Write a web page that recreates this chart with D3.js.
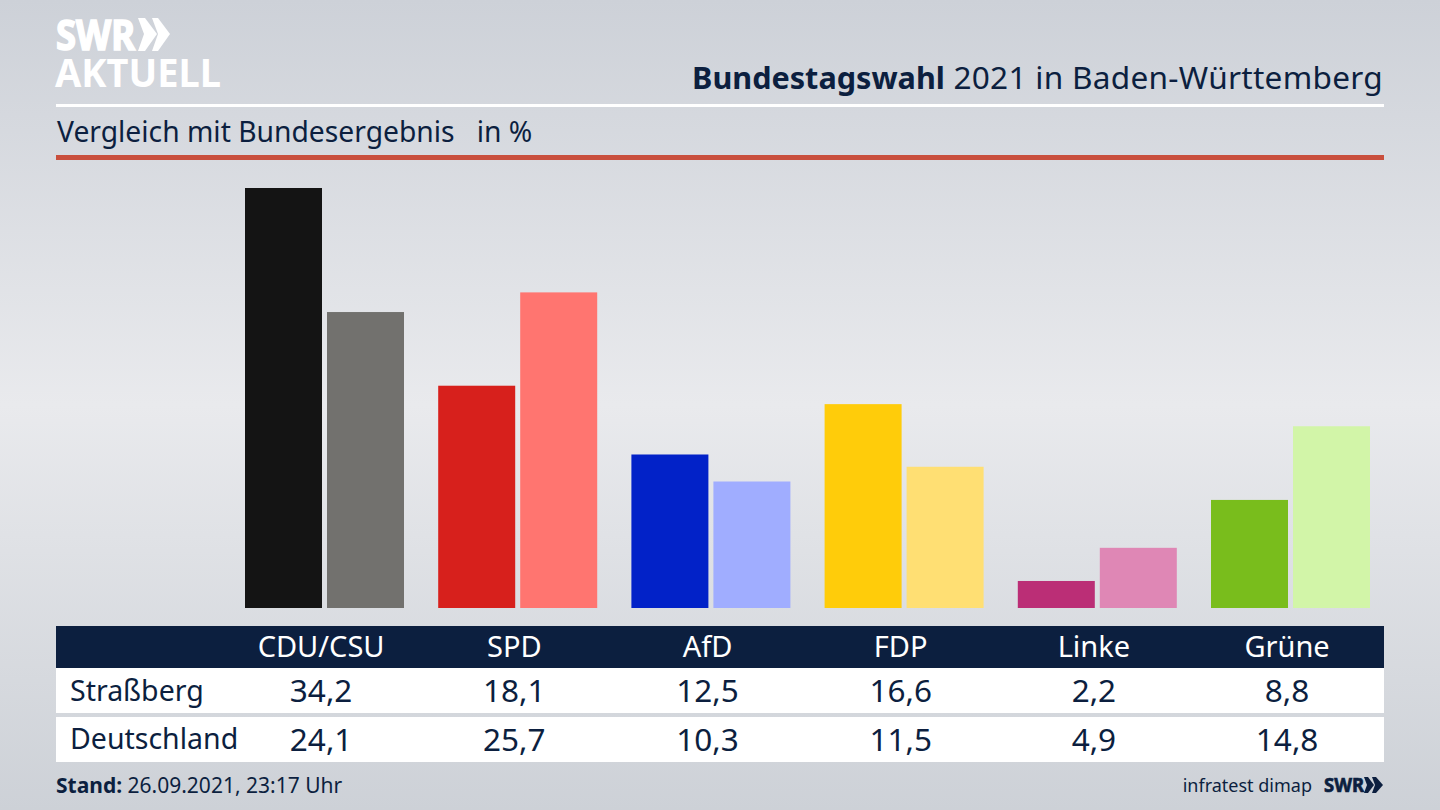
<!DOCTYPE html>
<html>
<head>
<meta charset="utf-8">
<script src="https://cdn.jsdelivr.net/npm/d3@7"></script>
<style>
html, body { margin: 0; padding: 0; background: #d5d8dd; overflow: hidden; }
text { font-family: "Noto Sans", sans-serif; }
</style>
</head>
<body>
<svg id="chart" width="1440" height="810"></svg>
<script>
//data
var parties = ["CDU/CSU", "SPD", "AfD", "FDP", "Linke", "Grüne"];
var regions = ["Straßberg", "Deutschland"];
var strassberg = [34.2, 18.1, 12.5, 16.6, 2.2, 8.8];
var deutschland = [24.1, 25.7, 10.3, 11.5, 4.9, 14.8];
var strassbergColors = ["#141414", "#d7201c", "#0222c8", "#ffcc0a", "#bb2e76", "#79bd1c"];
var deutschlandColors = ["#72716e", "#ff7570", "#a0adff", "#ffdf73", "#df87b5", "#d2f5a8"];

var navy = "#0c1f3f";
var svg = d3.select("#chart");

// background
var defs = svg.append("defs");
var grad = defs.append("linearGradient").attr("id", "bg").attr("x1", 0).attr("y1", 0).attr("x2", 0).attr("y2", 1);
grad.append("stop").attr("offset", "0%").attr("stop-color", "#cdd1d8");
grad.append("stop").attr("offset", "50%").attr("stop-color", "#e9eaed");
grad.append("stop").attr("offset", "100%").attr("stop-color", "#cdd1d7");
svg.append("rect").attr("width", 1440).attr("height", 810).attr("fill", "url(#bg)");

// logo
svg.append("text").attr("x", 56).attr("y", 50).attr("font-size", 41).attr("font-weight", 700)
  .attr("fill", "#fff").attr("stroke", "#fff").attr("stroke-width", 1.6)
  .attr("textLength", 79).attr("lengthAdjust", "spacingAndGlyphs").text("SWR");
svg.append("text").attr("x", 55).attr("y", 87).attr("font-size", 40).attr("font-weight", 700)
  .attr("fill", "#fff").attr("textLength", 166).attr("lengthAdjust", "spacingAndGlyphs").text("AKTUELL");
svg.append("path").attr("fill", "#fff")
  .attr("d", "M138 18h7l12 16-12 17h-7l6-17z M152 18h6l12 16-12 17h-6l6-17z");

// header
var title = svg.append("text").attr("x", 1383).attr("y", 89).attr("text-anchor", "end")
  .attr("fill", navy);
title.append("tspan").attr("font-weight", 700).attr("font-size", 30.6).text("Bundestagswahl");
title.append("tspan").attr("font-size", 31.6).attr("letter-spacing", 0.27).text(" 2021 in Baden-Württemberg");
svg.append("rect").attr("x", 56).attr("y", 104).attr("width", 1328).attr("height", 3).attr("fill", "#fff");
svg.append("text").attr("x", 57).attr("y", 142).attr("font-size", 28.25).attr("fill", navy)
  .attr("xml:space", "preserve").text("Vergleich mit Bundesergebnis   in %");
svg.append("rect").attr("x", 56).attr("y", 155).attr("width", 1328).attr("height", 5).attr("fill", "#c94f3d");

// scales
var x = d3.scaleBand().domain(parties).range([225, 1384.2]);
var xInner = d3.scaleBand().domain(regions).range([20, 179]).paddingInner(0.061);
var y = d3.scaleLinear().domain([0, 34.2]).range([608, 188]);

var groups = svg.selectAll(".party").data(parties).join("g")
  .attr("class", "party")
  .attr("transform", function(d) { return "translate(" + x(d) + ",0)"; });

groups.append("rect")
  .attr("x", xInner("Straßberg"))
  .attr("width", xInner.bandwidth())
  .attr("y", function(d, i) { return y(strassberg[i]); })
  .attr("height", function(d, i) { return y(0) - y(strassberg[i]); })
  .attr("fill", function(d, i) { return strassbergColors[i]; });

groups.append("rect")
  .attr("x", xInner("Deutschland"))
  .attr("width", xInner.bandwidth())
  .attr("y", function(d, i) { return y(deutschland[i]); })
  .attr("height", function(d, i) { return y(0) - y(deutschland[i]); })
  .attr("fill", function(d, i) { return deutschlandColors[i]; });

// table
svg.append("rect").attr("x", 56).attr("y", 626).attr("width", 1328).attr("height", 42).attr("fill", navy);
svg.append("rect").attr("x", 56).attr("y", 668).attr("width", 1328).attr("height", 45).attr("fill", "#fff");
svg.append("rect").attr("x", 56).attr("y", 717).attr("width", 1328).attr("height", 45).attr("fill", "#fff");

function colCenter(d) { return x(d) + x.bandwidth() / 2 - 0.5; }

svg.selectAll(".head").data(parties).join("text")
  .attr("class", "head").attr("x", colCenter).attr("y", 657)
  .attr("text-anchor", "middle").attr("font-size", 29).attr("fill", "#fff")
  .text(function(d) { return d; });

var fmt = function(v) { return v.toFixed(1).replace(".", ","); };
[strassberg, deutschland].forEach(function(vals, r) {
  var rowY = r == 0 ? 702 : 751;
  svg.append("text").attr("x", 70).attr("y", r == 0 ? 701 : 749)
    .attr("font-size", 28.5).attr("fill", navy).text(regions[r]);
  svg.selectAll(".val" + r).data(vals).join("text")
    .attr("class", "val" + r)
    .attr("x", function(d, i) { return colCenter(parties[i]); })
    .attr("y", rowY).attr("text-anchor", "middle").attr("font-size", 31.5).attr("fill", navy)
    .text(fmt);
});

// footer
var stand = svg.append("text").attr("x", 56).attr("y", 793).attr("font-size", 21).attr("fill", navy);
stand.append("tspan").attr("font-weight", 700).text("Stand:");
stand.append("tspan").text(" 26.09.2021, 23:17 Uhr");
svg.append("text").attr("x", 1312).attr("y", 792).attr("text-anchor", "end")
  .attr("font-size", 18).attr("fill", navy).text("infratest dimap");
svg.append("text").attr("x", 1324).attr("y", 792).attr("font-size", 20).attr("font-weight", 700)
  .attr("fill", navy).attr("stroke", navy).attr("stroke-width", 0.7)
  .attr("textLength", 40).attr("lengthAdjust", "spacingAndGlyphs").text("SWR");
svg.append("path").attr("fill", navy)
  .attr("d", "M1364 777h4l6 8-6 8h-4l3-8z M1372 777h4l7 8-7 8h-4l3-8z");
</script>
</body>
</html>
